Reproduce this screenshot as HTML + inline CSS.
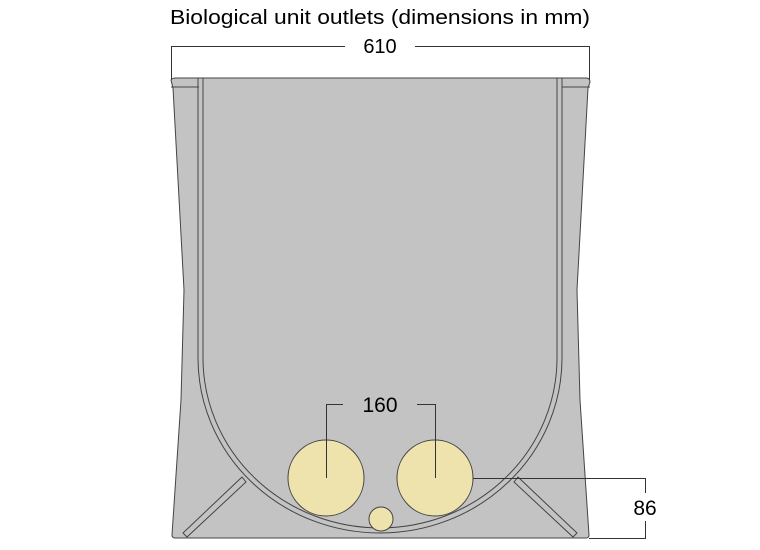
<!DOCTYPE html>
<html><head><meta charset="utf-8"><style>
html,body{margin:0;padding:0;background:#fff;}
svg{display:block;}
text{font-family:"Liberation Sans",sans-serif;fill:#000;}
</style></head><body>
<svg width="760" height="550" viewBox="0 0 760 550" xmlns="http://www.w3.org/2000/svg">
<text x="380" y="24" font-size="20" text-anchor="middle" textLength="420" lengthAdjust="spacingAndGlyphs">Biological unit outlets (dimensions in mm)</text>
<g stroke="#333" stroke-width="1" fill="none">
<path d="M171.5 80 V46.5 H345 M415 46.5 H589.5 V80"/>
</g>
<text x="380" y="53" font-size="20" text-anchor="middle">610</text>
<path d="M171 80 Q172 78 176 78 L586 78 Q590 78 590 82 L588 88 L577 290 L580 400 L589 535 Q589 538 586 538 L175 538 Q172 538 172 535 L181 400 L184 290 L173 88 Z" fill="#c3c3c3" stroke="#444" stroke-width="1"/>
<path d="M171 87 H199 M562 87 H590" stroke="#444" stroke-width="1" fill="none"/>
<path d="M198 78 V358 A182 175 0 0 0 562 358 V78" fill="none" stroke="#444" stroke-width="1"/>
<path d="M203 78 V358 A177 170 0 0 0 557 358 V78" fill="none" stroke="#444" stroke-width="1"/>
<path d="M242 477 L246 482 L187 537 L183 533 Z" fill="#c3c3c3" stroke="#444" stroke-width="1"/>
<path d="M518 477 L514 482 L573 537 L577 533 Z" fill="#c3c3c3" stroke="#444" stroke-width="1"/>
<circle cx="326" cy="478" r="38" fill="#efe3ad" stroke="#444" stroke-width="1"/>
<circle cx="435" cy="478" r="38" fill="#efe3ad" stroke="#444" stroke-width="1"/>
<circle cx="381" cy="519" r="12" fill="#efe3ad" stroke="#444" stroke-width="1"/>
<path d="M326.5 478 V404.5 H343 M417 404.5 H435.5 V478" fill="none" stroke="#333" stroke-width="1"/>
<text x="380" y="412" font-size="21" text-anchor="middle">160</text>
<path d="M473 478.5 H645.5 V493 M645.5 521 V538.5 H589" fill="none" stroke="#333" stroke-width="1"/>
<text x="645" y="515" font-size="21" text-anchor="middle">86</text>
</svg>
</body></html>
